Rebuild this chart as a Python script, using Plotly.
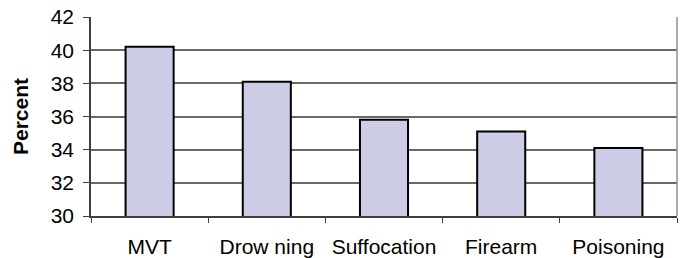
import plotly.graph_objects as go

categories = ["MVT", "Drow ning", "Suffocation", "Firearm", "Poisoning"]
percent = [40.2, 38.1, 35.8, 35.1, 34.1]
y_ticks = [30, 32, 34, 36, 38, 40, 42]

fig = go.Figure(go.Bar(
    x=categories, y=percent,
    marker=dict(color="#CCCCE6", line=dict(color="#000000", width=2)),
    width=0.41,
))

fig.update_layout(
    width=685, height=258,
    margin=dict(l=91, r=8, t=17, b=42),
    paper_bgcolor="white", plot_bgcolor="white",
    showlegend=False,
    font=dict(family="Liberation Sans, Arial", color="black", size=21),
)
fig.update_xaxes(
    type="category", tickson="boundaries", automargin=False,
    ticks="outside", ticklen=5, tickcolor="#404040", tickwidth=1,
    showline=True, linecolor="#404040", linewidth=1.5,
    showgrid=False, mirror=False,
    tickfont=dict(size=21), ticklabelstandoff=11,
)
fig.update_yaxes(
    range=[30, 42], tickvals=y_ticks, automargin=False,
    ticks="outside", ticklen=6, tickcolor="#404040", tickwidth=1,
    showline=True, linecolor="#404040", linewidth=1.5,
    showgrid=True, gridcolor="#686868", gridwidth=1.5,
    zeroline=False,
    tickfont=dict(size=21), ticklabelstandoff=5,
    title=dict(text="<b>Percent</b>", font=dict(size=21), standoff=16),
)
# right border of the plot area
fig.add_shape(type="line", xref="paper", yref="paper", x0=1, x1=1, y0=0, y1=1,
              line=dict(color="#909090", width=1.5))

# remove the browser's default 8px body margin so the figure fills the window
fig.write_html("out.html", config={"displayModeBar": False},
               post_script="document.body.style.margin='0';")
